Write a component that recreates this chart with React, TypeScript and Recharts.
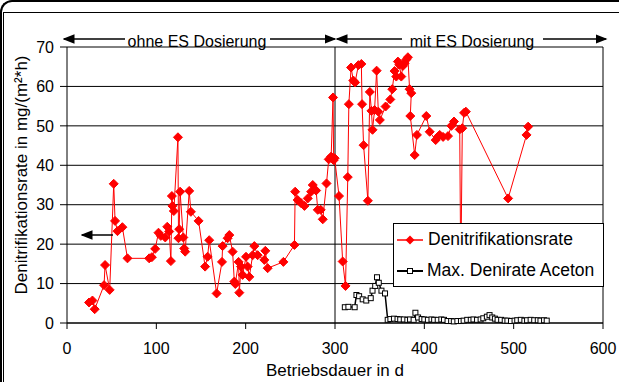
import React from "react"
import {
  LineChart,
  Line,
  XAxis,
  YAxis,
  CartesianGrid,
  ReferenceLine,
} from "recharts"

// Denitrifikationsrate (Betriebsdauer d / mg/(m²*h))
const rateDays = [
  24.7, 28.5, 31, 41.5, 42.6, 47.8, 52.3, 53.8, 56.5, 62, 67.7, 92, 95, 98.7,
  102.4, 105, 110, 112.2, 114.4, 116.3, 117.4, 118, 119.6, 124.2, 124.8, 125.6,
  126.6, 130.2, 131.2, 132.3, 136.8, 138.7, 147.3, 154.6, 157.4, 159.2, 167.5,
  173.5, 174.2, 179.8, 181.7, 185.4, 187.3, 188.4, 192.1, 192.9, 194.8, 196.6,
  200.4, 202.2, 204.1, 207.8, 209.7, 213.4, 220.9, 222, 224.6, 242.2, 254.6,
  255.4, 258.2, 262, 265.8, 269.5, 273.3, 275.1, 278.9, 280.7, 284, 286.3,
  290.5, 293, 295.7, 297.8, 298.5, 299.6, 304.5, 308.6, 311.8, 314.3, 315.5,
  318, 320.5, 322.5, 326.2, 329.5, 330.3, 332, 336.8, 339, 340.8, 342, 344.3,
  346.6, 348.5, 350.2, 356.6, 361.9, 364.1, 366.7, 368.6, 370.4, 372, 374.2,
  376, 378, 379.8, 381.6, 383.5, 385.4, 384.3, 389.2, 391.7, 402.2, 406, 412.7,
  415, 417.2, 421, 426.5, 430.3, 433.2, 439.6, 440.8, 442.5, 444.5, 446.5,
  493.8, 514.4, 516.2,
]
const rateValues = [
  5.2, 5.7, 3.5, 9.6, 14.7, 8.4, 35.3, 25.9, 23.3, 24.3, 16.4, 16.4, 16.7, 18.8,
  22.9, 22.1, 21.7, 24.4, 23.2, 15.7, 32.2, 29.7, 28.4, 47.1, 21.5, 23.8, 33.3,
  21.7, 18.9, 18.1, 33.5, 28.2, 25.9, 14.3, 16.8, 21, 7.5, 15.5, 19.5, 21.5,
  22.3, 18.1, 10.5, 9.9, 15.5, 7.7, 14.3, 12.2, 16.8, 14.3, 11.7, 17.2, 19.5,
  17.2, 16, 18.3, 13.9, 15.5, 19.8, 33.3, 31.2, 30.4, 29.7, 31.6, 33.3, 35,
  33.6, 28.7, 28.7, 26.3, 35.4, 41.5, 42.2, 57.2, 41.3, 41.8, 32.2, 15.6, 9.4,
  37, 55.5, 64.8, 61.5, 61, 65.4, 65.7, 55.5, 45.1, 31, 58.6, 53.8, 49, 54, 64,
  53.6, 51.5, 54.9, 56.7, 59.3, 63.9, 62.5, 66.3, 65.5, 62.5, 65.2, 65.9, 66.8,
  67.4, 59.3, 58.3, 52.5, 42.6, 47.7, 52.5, 48.5, 46.4, 47.2, 47.7, 47.2, 47.4,
  50, 51.1, 49.1, 12, 49.4, 53.3, 53.6, 31.6, 47.7, 49.8,
]

// Max. Denirate Aceton
const acetonDays = [
  311, 315, 322, 324, 327, 331, 335, 340, 342, 345, 347, 349, 352, 356, 359,
  362, 366, 370, 373, 377, 381, 384, 388, 390, 393, 397, 400, 404, 408, 411,
  415, 419, 422, 426, 430, 433, 437, 441, 444, 448, 452, 455, 459, 463, 466,
  470, 473, 476, 479, 482, 486, 490, 493, 497, 501, 504, 508, 512, 515, 519,
  523, 527, 530, 534, 537,
]
const acetonValues = [
  4.0, 4.1, 4.0, 7.1, 6.8, 6.0, 5.7, 6.3, 8.2, 9.4, 11.6, 10.2, 8.2, 7.5, 0.8,
  1.0, 1.1, 1.0, 0.9, 0.9, 0.8, 0.9, 0.8, 2.6, 1.4, 1.0, 0.9, 0.8, 0.9, 0.8,
  0.8, 0.9, 0.8, 0.5, 0.5, 0.4, 0.5, 0.5, 0.6, 0.8, 0.8, 0.9, 0.8, 0.9, 1.2,
  1.6, 2.0, 1.4, 1.1, 0.8, 0.8, 0.6, 0.6, 0.5, 0.6, 0.7, 0.8, 0.6, 0.7, 0.8,
  0.7, 0.7, 0.6, 0.7, 0.6,
]

const xTicks = [0, 100, 200, 300, 400, 500, 600]
const yTicks = [0, 10, 20, 30, 40, 50, 60, 70]

const rateData = rateDays.map((d, i) => ({ x: d, y: rateValues[i] }))
const acetonData = acetonDays.map((d, i) => ({ x: d, y: acetonValues[i] }))

const FONT = "'Liberation Sans', Arial, sans-serif"

const Diamond = (props: any) => {
  const { cx, cy, index } = props
  if (cx == null || cy == null) return <g key={`d-${index}`} />
  return (
    <path
      key={`d-${index}`}
      d={`M${cx},${cy - 4.5} L${cx + 4.5},${cy} L${cx},${cy + 4.5} L${cx - 4.5},${cy} Z`}
      fill="#ff0000"
      stroke="#ff0000"
    />
  )
}

const Square = (props: any) => {
  const { cx, cy, index } = props
  if (cx == null || cy == null) return <g key={`s-${index}`} />
  return (
    <rect
      key={`s-${index}`}
      x={cx - 2.5}
      y={cy - 2.5}
      width={5}
      height={5}
      fill="#ffffff"
      stroke="#000000"
      strokeWidth={1}
    />
  )
}

const legendRow: React.CSSProperties = {
  display: "flex",
  alignItems: "center",
  height: 31,
  paddingLeft: 3,
  whiteSpace: "nowrap",
}

export default function App() {
  return (
    <div style={{ position: "relative", width: 619, height: 382, background: "#fff", overflow: "hidden" }}>
      <style>{"body{margin:0}"}</style>
      {/* Rahmen */}
      <div
        style={{
          position: "absolute",
          left: 0,
          top: 0,
          width: 640,
          height: 400,
          borderTop: "2px solid #000",
          borderLeft: "2px solid #000",
          borderTopLeftRadius: 12,
          boxSizing: "border-box",
        }}
      />
      <div
        style={{
          position: "absolute",
          left: 3,
          top: 12,
          width: 640,
          height: 400,
          borderTop: "1px solid #000",
          borderLeft: "1px solid #000",
          boxSizing: "border-box",
        }}
      />
      <div style={{ position: "absolute", left: 0, top: 0 }}>
        <LineChart
          width={619}
          height={382}
          margin={{ top: 47, right: 16, bottom: 0, left: 0 }}
          style={{ fontFamily: FONT }}
        >
          <CartesianGrid horizontal vertical={false} stroke="#000" strokeWidth={1} />
          <XAxis
            type="number"
            dataKey="x"
            domain={[0, 600]}
            ticks={xTicks}
            allowDuplicatedCategory={false}
            height={59}
            stroke="#000"
            tickSize={6}
            tickMargin={14}
            tick={{ fill: "#000", fontSize: 16 }}
            label={{
              content: ({ viewBox }: any) => (
                <text
                  x={viewBox.x + viewBox.width / 2}
                  y={376}
                  textAnchor="middle"
                  fontSize={17}
                  fill="#000"
                  fontFamily={FONT}
                >
                  Betriebsdauer in d
                </text>
              ),
            }}
          />
          <YAxis
            type="number"
            dataKey="y"
            domain={[0, 70]}
            ticks={yTicks}
            width={67}
            stroke="#000"
            tickSize={7}
            tickMargin={6}
            tick={{ fill: "#000", fontSize: 16 }}
            label={{
              content: ({ viewBox }: any) => {
                const cy = viewBox.y + viewBox.height / 2 - 10
                return (
                  <text
                    x={21}
                    y={cy}
                    transform={`rotate(-90, 21, ${cy})`}
                    textAnchor="middle"
                    dominantBaseline="central"
                    fontSize={17}
                    fill="#000"
                    fontFamily={FONT}
                  >
                    Denitrifikationsrate in mg/(m²*h)
                  </text>
                )
              },
            }}
          />
          <ReferenceLine x={300} stroke="#000" strokeWidth={1} />
          <ReferenceLine x={600} stroke="#000" strokeWidth={1} />
          <Line
            data={rateData}
            dataKey="y"
            name="Denitrifikationsrate"
            stroke="#ff0000"
            strokeWidth={1}
            dot={Diamond}
            activeDot={false}
            isAnimationActive={false}
          />
          <Line
            data={acetonData}
            dataKey="y"
            name="Max. Denirate Aceton"
            stroke="#000"
            strokeWidth={1.5}
            dot={Square}
            activeDot={false}
            isAnimationActive={false}
          />
        </LineChart>
      </div>
      {/* Legende */}
      <div
        style={{
          position: "absolute",
          left: 393,
          top: 223,
          width: 209,
          height: 62,
          background: "#ffffff",
          border: "1px solid #000",
          fontFamily: FONT,
          fontSize: 17.5,
          color: "#000",
        }}
      >
        <div style={legendRow}>
          <svg width={26} height={12} style={{ marginRight: 5, flexShrink: 0 }}>
            <line x1={0} y1={6} x2={26} y2={6} stroke="#ff0000" strokeWidth={1.5} />
            <path d="M13,1.5 L17.5,6 L13,10.5 L8.5,6 Z" fill="#ff0000" />
          </svg>
          Denitrifikationsrate
        </div>
        <div style={legendRow}>
          <svg width={26} height={12} style={{ marginRight: 4, flexShrink: 0 }}>
            <line x1={0} y1={6} x2={26} y2={6} stroke="#000" strokeWidth={2} />
            <rect x={10.5} y={3.5} width={5} height={5} fill="#fff" stroke="#000" />
          </svg>
          Max. Denirate Aceton
        </div>
      </div>
      {/* Phasen-Pfeile */}
      <svg
        width={619}
        height={382}
        style={{ position: "absolute", left: 0, top: 0, pointerEvents: "none", fontFamily: FONT }}
      >
        <defs>
          <marker id="ah" markerWidth="8" markerHeight="8" refX="7" refY="4" orient="auto">
            <path d="M0,0.8 L8,4 L0,7.2 Z" fill="#000" />
          </marker>
        </defs>
        <line x1={125} y1={39} x2={64} y2={39} stroke="#000" strokeWidth={1.5} markerEnd="url(#ah)" />
        <line x1={270} y1={39} x2={335} y2={39} stroke="#000" strokeWidth={1.5} markerEnd="url(#ah)" />
        <text x={197} y={47} textAnchor="middle" fontSize={16} fill="#000">
          ohne ES Dosierung
        </text>
        <line x1={402} y1={39} x2={337} y2={39} stroke="#000" strokeWidth={1.5} markerEnd="url(#ah)" />
        <line x1={543} y1={39} x2={606} y2={39} stroke="#000" strokeWidth={1.5} markerEnd="url(#ah)" />
        <text x={472} y={47} textAnchor="middle" fontSize={16} fill="#000">
          mit ES Dosierung
        </text>
        <line x1={113} y1={235} x2={82} y2={235} stroke="#000" strokeWidth={1.5} markerEnd="url(#ah)" />
      </svg>
    </div>
  )
}
